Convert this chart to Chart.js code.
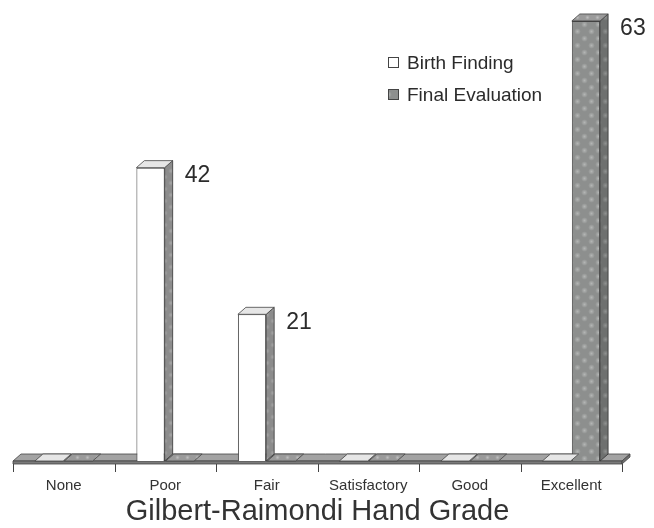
<!DOCTYPE html>
<html>
<head>
<meta charset="utf-8">
<script src="https://cdn.jsdelivr.net/npm/chart.js@4.4.1/dist/chart.umd.min.js"></script>
<style>
  html, body { margin: 0; padding: 0; background: #ffffff; }
  #wrap { width: 654px; height: 528px; position: relative; }
</style>
</head>
<body>
<div id="wrap"><canvas id="chart" width="654" height="528"></canvas></div>
<script>
// Hand grade categories and patient counts per evaluation
const categories = ['None', 'Poor', 'Fair', 'Satisfactory', 'Good', 'Excellent'];
const birthFinding = [0, 42, 21, 0, 0, 0];
const finalEvaluation = [0, 0, 0, 0, 0, 63];
const seriesNames = ['Birth Finding', 'Final Evaluation'];

const FONT = '"Liberation Sans", Arial, Helvetica, sans-serif';
const DX = 8, DY = -7; // depth offset of the pseudo-3D faces

// Speckled grey fill used for the Final Evaluation bars
function makeDots(base, dot, size) {
  const c = document.createElement('canvas');
  c.width = size; c.height = size;
  const g = c.getContext('2d');
  g.fillStyle = base; g.fillRect(0, 0, size, size);
  const spots = [[size * 0.25, size * 0.25], [size * 0.75, size * 0.75]];
  spots.forEach(([x, y]) => {
    const r = size * 0.24;
    const grd = g.createRadialGradient(x, y, 0, x, y, r);
    grd.addColorStop(0, dot);
    grd.addColorStop(1, base);
    g.fillStyle = grd;
    g.beginPath(); g.arc(x, y, r, 0, Math.PI * 2); g.fill();
  });
  return g.createPattern(c, 'repeat');
}
const ctx = document.getElementById('chart').getContext('2d');
const dotFront = makeDots('#8d8f8e', '#b3b5b4', 14);
const dotSide = makeDots('#6e706f', '#8e908f', 14);
const dotTop = makeDots('#9a9a9a', '#bdbdbd', 10);
const whiteSide = makeDots('#8c8c8c', '#a6a6a6', 12);

const faceStyles = [
  { side: whiteSide, top: '#e6e6e6' },
  { side: dotSide, top: dotTop }
];

function poly(c, pts, fill, stroke) {
  c.beginPath();
  c.moveTo(pts[0][0], pts[0][1]);
  for (let i = 1; i < pts.length; i++) c.lineTo(pts[i][0], pts[i][1]);
  c.closePath();
  c.fillStyle = fill; c.fill();
  if (stroke) { c.strokeStyle = stroke; c.lineWidth = 0.8; c.stroke(); }
}

// Floor slab with tick marks under the category axis
const floorPlugin = {
  id: 'floor',
  beforeDatasetsDraw(chart) {
    const { left, right, bottom } = chart.chartArea;
    const c = chart.ctx;
    c.save();
    poly(c, [[left, bottom], [right, bottom], [right + DX, bottom + DY], [left + DX, bottom + DY]], '#a3a3a3', '#444');
    poly(c, [[left, bottom], [right, bottom], [right, bottom + 3], [left, bottom + 3]], '#7a7a7a', '#444');
    poly(c, [[right, bottom], [right + DX, bottom + DY], [right + DX, bottom + DY + 3], [right, bottom + 3]], '#707070', '#444');
    c.strokeStyle = '#444'; c.lineWidth = 1;
    const n = categories.length;
    const step = (right - left) / n;
    for (let i = 0; i <= n; i++) {
      const x = Math.round(left + i * step) + 0.5;
      c.beginPath(); c.moveTo(x, bottom + 3); c.lineTo(x, bottom + 11); c.stroke();
    }
    c.restore();
  }
};

// Side and top faces, value labels and the legend
const depthPlugin = {
  id: 'depth',
  afterDatasetsDraw(chart) {
    const c = chart.ctx;
    c.save();
    chart.data.datasets.forEach((ds, di) => {
      const meta = chart.getDatasetMeta(di);
      const st = faceStyles[di];
      meta.data.forEach((bar) => {
        const l = bar.x - bar.width / 2, r = bar.x + bar.width / 2;
        const t = bar.y, b = bar.base;
        if (b - t > 0.5) {
          poly(c, [[r, t], [r + DX, t + DY], [r + DX, b + DY], [r, b]], st.side, '#333');
        }
        poly(c, [[l, t], [l + DX, t + DY], [r + DX, t + DY], [r, t]], st.top, '#444');
      });
    });
    // value labels beside the bars
    c.fillStyle = '#2b2b2b';
    c.font = '23px ' + FONT;
    c.textAlign = 'left';
    c.textBaseline = 'middle';
    chart.data.datasets.forEach((ds, di) => {
      const meta = chart.getDatasetMeta(di);
      meta.data.forEach((bar, i) => {
        const v = ds.data[i];
        if (v > 0) {
          c.fillText(String(v), bar.x + bar.width / 2 + DX + 12, bar.y + 8);
        }
      });
    });
    // legend inside the plot
    const lx = 388, ly = [63, 95];
    c.font = '19px ' + FONT;
    chart.data.datasets.forEach((ds, di) => {
      const y = ly[di];
      c.fillStyle = ds.backgroundColor;
      c.fillRect(lx, y - 6, 11, 11);
      c.strokeStyle = '#444'; c.lineWidth = 1;
      c.strokeRect(lx + 0.5, y - 5.5, 10, 10);
      c.fillStyle = '#2b2b2b';
      c.fillText(ds.label, lx + 19, y + 1);
    });
    c.restore();
  }
};

new Chart(ctx, {
  type: 'bar',
  data: {
    labels: categories,
    datasets: [
      {
        label: seriesNames[0],
        data: birthFinding,
        backgroundColor: '#ffffff',
        borderColor: '#444',
        borderWidth: 1
      },
      {
        label: seriesNames[1],
        data: finalEvaluation,
        backgroundColor: dotFront,
        borderColor: '#444',
        borderWidth: 1
      }
    ]
  },
  options: {
    responsive: false,
    animation: false,
    events: [],
    layout: { padding: { left: 13, right: 32, top: 0, bottom: 0 } },
    plugins: {
      legend: { display: false },
      tooltip: { enabled: false }
    },
    datasets: {
      bar: { categoryPercentage: 0.58, barPercentage: 0.96 }
    },
    scales: {
      y: {
        display: false,
        min: 0,
        max: 66
      },
      x: {
        afterFit(scale) { scale.height = 67; },
        grid: { display: false, drawTicks: false },
        border: { display: false },
        ticks: {
          padding: 16,
          color: '#333',
          font: { family: FONT, size: 15 }
        },
        title: {
          display: true,
          text: 'Gilbert-Raimondi Hand Grade',
          color: '#333',
          padding: { top: 0, bottom: 0 },
          font: { family: FONT, size: 29, lineHeight: 1.08 }
        }
      }
    }
  },
  plugins: [floorPlugin, depthPlugin]
});
</script>
</body>
</html>
